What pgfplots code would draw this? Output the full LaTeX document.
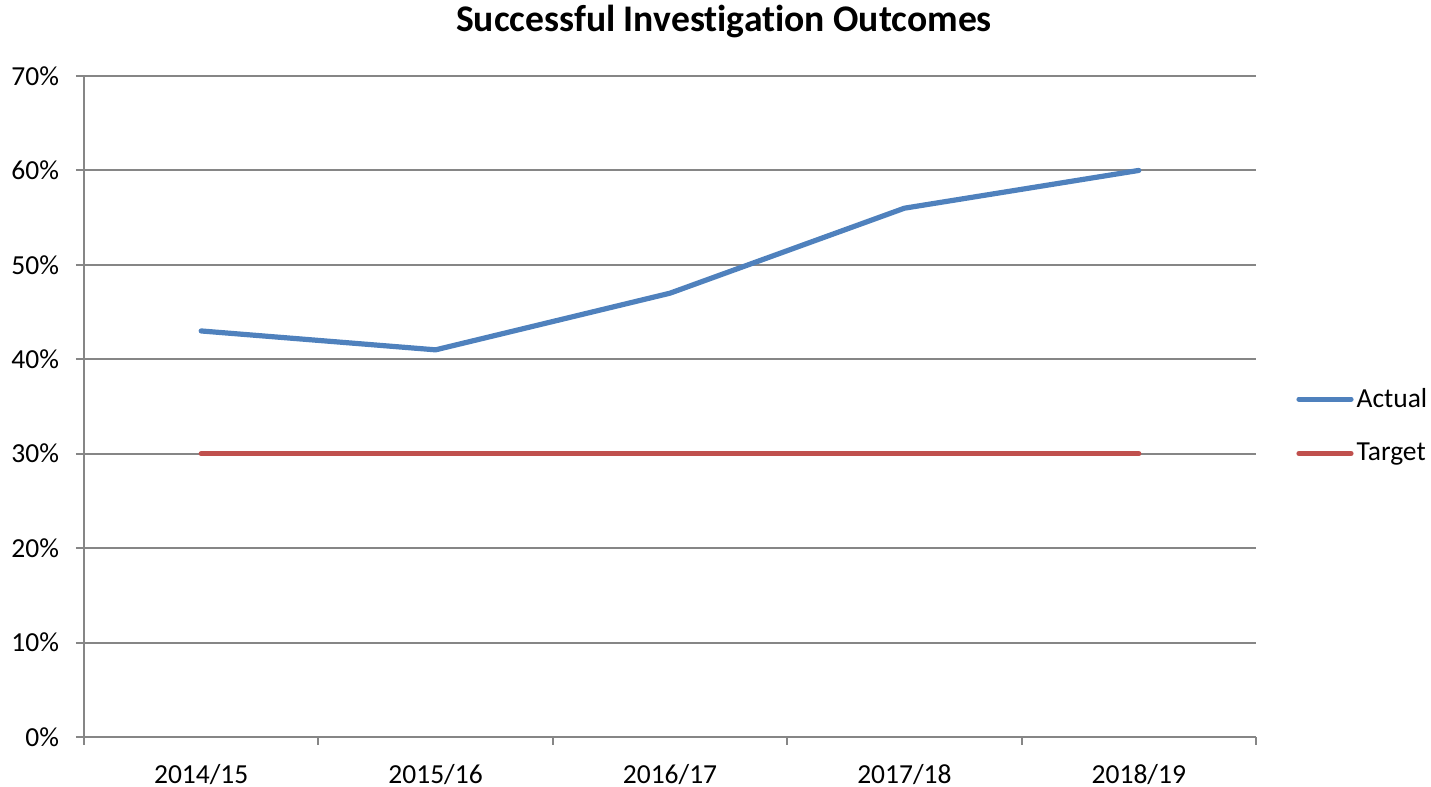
\documentclass[border=0pt]{standalone}
\usepackage{fontspec}
\setmainfont{Carlito}[Ligatures=NoCommon]
\usepackage{pgfplots}
\pgfplotsset{compat=1.18}
\definecolor{actual}{HTML}{4F81BD}
\definecolor{target}{HTML}{C0504D}
\definecolor{axgray}{HTML}{868686}
\begin{document}
\begin{tikzpicture}
\path[use as bounding box] (-42pt,-25pt) rectangle (673.5pt,368.5pt);
\begin{axis}[
  at={(0,0)}, anchor=south west,
  scale only axis, width=586pt, height=330.5pt,
  xmin=-0.5, xmax=4.5, ymin=0, ymax=70,
  axis x line*=bottom, axis y line*=left,
  axis line style={-, draw=axgray, line width=1pt},
  xtick={-0.5,0.5,...,4.5},
  x tick label as interval,
  xticklabels={2014/15,2015/16,2016/17,2017/18,2018/19},
  ytick={0,10,...,70},
  yticklabel={\pgfmathprintnumber{\tick}\%},
  /pgf/number format/assume math mode=true,
  tick align=outside,
  major tick length=4pt,
  tick style={draw=axgray, line width=1pt},
  ymajorgrids,
  grid style={draw=axgray, line width=1pt},
  ticklabel style={font=\fontsize{13.75}{16}\selectfont},
  xticklabel style={yshift=-6pt},
  yticklabel style={xshift=-5pt},
  legend style={at={(1.029,0.4705)}, anchor=west, draw=none, fill=none,
    font=\fontsize{13.75}{16}\selectfont, row sep=13.5pt,
    nodes={inner sep=1.5pt}},
  legend cell align=left,
  legend image code/.code={\draw[#1, line cap=round] (0pt,0pt) -- (26pt,0pt);},
]
\addplot[actual, line width=2.6pt, line cap=round, line join=round] coordinates {(0,43) (1,41) (2,47) (3,56) (4,60)};
\addlegendentry{Actual}
\addplot[target, line width=2.6pt, line cap=round, line join=round] coordinates {(0,30) (1,30) (2,30) (3,30) (4,30)};
\addlegendentry{Target}
\end{axis}
\node[font=\bfseries\fontsize{18.8}{22}\selectfont] at (320pt,357.5pt) {Successful Investigation Outcomes};
\end{tikzpicture}
\end{document}
